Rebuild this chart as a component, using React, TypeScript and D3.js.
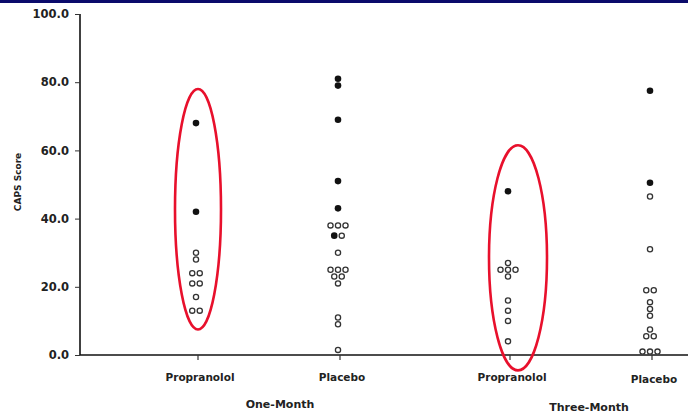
import React from 'react';
import * as d3 from 'd3';

const groups = ['One-Month', 'Three-Month'];
const treatments = ['Propranolol', 'Placebo'];
const yTicks = [0, 20, 40, 60, 80, 100];

// CAPS scores; filled = solid dots, open = hollow dots
const oneMonthPropranololFilled = [68, 42];
const oneMonthPropranololOpen = [30, 28, 24, 24, 21, 21, 17, 13, 13];
const oneMonthPlaceboFilled = [81, 79, 69, 51, 43, 35];
const oneMonthPlaceboOpen = [38, 38, 38, 35, 30, 25, 25, 25, 23, 23, 21, 11, 9, 1.5];
const threeMonthPropranololFilled = [48];
const threeMonthPropranololOpen = [27, 25, 25, 25, 23, 16, 13, 10, 4];
const threeMonthPlaceboFilled = [77.5, 50.5];
const threeMonthPlaceboOpen = [46.5, 31, 19, 19, 15.5, 13.5, 11.5, 7.5, 5.5, 5.5, 1, 1, 1];

// red ellipses drawn around the propranolol columns (value low, value high)
const highlightGroups = ['One-Month', 'Three-Month'];
const highlightRanges = [[7.5, 78], [-4.5, 61.5]];

const series = [
  { group: 'One-Month', treatment: 'Propranolol', filled: oneMonthPropranololFilled, open: oneMonthPropranololOpen },
  { group: 'One-Month', treatment: 'Placebo', filled: oneMonthPlaceboFilled, open: oneMonthPlaceboOpen },
  { group: 'Three-Month', treatment: 'Propranolol', filled: threeMonthPropranololFilled, open: threeMonthPropranololOpen },
  { group: 'Three-Month', treatment: 'Placebo', filled: threeMonthPlaceboFilled, open: threeMonthPlaceboOpen },
];

const W = 688;
const H = 414;
const font = '"DejaVu Sans", Verdana, sans-serif';

export default function App() {
  const ref = React.useRef<SVGSVGElement>(null);

  React.useEffect(() => {
    const svg = d3.select(ref.current);
    svg.selectAll('*').remove();

    const y = d3.scaleLinear().domain([0, 100]).range([355, 14]);
    const xg = d3.scalePoint().domain(groups).range([268, 580]);
    const xt = d3.scalePoint().domain(treatments).range([-70, 72]);
    const xc = (g: string, t: string) => (xg(g) as number) + (xt(t) as number);

    svg.append('rect').attr('width', W).attr('height', H).attr('fill', '#fff');
    svg.append('rect').attr('width', W).attr('height', 3).attr('fill', '#0b0b6b');

    // y axis
    const yAxis = svg.append('g')
      .attr('transform', 'translate(80,0)')
      .call(d3.axisLeft(y).tickValues(yTicks).tickFormat(d3.format('.1f')).tickSize(5).tickPadding(6));
    yAxis.select('.domain').attr('stroke', '#111').attr('stroke-width', 1.6).attr('d', `M0,${y(100)}V${y(0)}`);
    yAxis.selectAll('.tick line').attr('stroke', '#333');
    yAxis.selectAll('text')
      .attr('font-family', font).attr('font-size', 11.5).attr('font-weight', 'bold').attr('fill', '#222');

    svg.append('text')
      .attr('transform', `translate(21,182) rotate(-90)`)
      .attr('text-anchor', 'middle')
      .attr('font-family', font).attr('font-size', 9).attr('font-weight', 'bold').attr('fill', '#222')
      .text('CAPS Score');

    // x axis
    svg.append('line')
      .attr('x1', 80).attr('x2', W).attr('y1', y(0)).attr('y2', y(0))
      .attr('stroke', '#111').attr('stroke-width', 1.6);
    series.forEach((s, i) => {
      const cx = xc(s.group, s.treatment);
      svg.append('line').attr('x1', cx).attr('x2', cx).attr('y1', y(0)).attr('y2', y(0) + 5)
        .attr('stroke', '#333').attr('stroke-width', 1.2);
      svg.append('text')
        .attr('x', cx + 2).attr('y', i === 3 ? 383 : 381)
        .attr('text-anchor', 'middle')
        .attr('font-family', font).attr('font-size', 10.5).attr('font-weight', 'bold').attr('fill', '#222')
        .text(s.treatment);
    });
    const groupLabelShift = [12, 9];
    groups.forEach((g, i) => {
      svg.append('text')
        .attr('x', (xg(g) as number) + groupLabelShift[i]).attr('y', 408 + i * 3)
        .attr('text-anchor', 'middle')
        .attr('font-family', font).attr('font-size', 11).attr('font-weight', 'bold').attr('fill', '#222')
        .text(g);
    });

    // points, dodged side by side when values coincide
    const gap = 7.5;
    series.forEach(s => {
      const pts = [
        ...s.filled.map(v => ({ v, filled: true })),
        ...s.open.map(v => ({ v, filled: false })),
      ];
      const byVal = d3.group(pts, d => d.v);
      const cx = xc(s.group, s.treatment) - 2;
      byVal.forEach(arr => {
        arr.forEach((d, i) => {
          const dx = (i - (arr.length - 1) / 2) * gap;
          const c = svg.append('circle')
            .attr('cx', cx + dx).attr('cy', y(d.v));
          if (d.filled) c.attr('r', 3.3).attr('fill', '#111');
          else c.attr('r', 2.6).attr('fill', '#fff').attr('stroke', '#333').attr('stroke-width', 1.3);
        });
      });
    });

    // red ellipses
    const ellipseShift = [0, 8];
    const ellipseRx = [23, 29];
    highlightGroups.forEach((g, i) => {
      const [lo, hi] = highlightRanges[i];
      svg.append('ellipse')
        .attr('cx', xc(g, 'Propranolol') + ellipseShift[i])
        .attr('cy', (y(lo) + y(hi)) / 2)
        .attr('rx', ellipseRx[i])
        .attr('ry', (y(lo) - y(hi)) / 2)
        .attr('fill', 'none').attr('stroke', '#e8102c').attr('stroke-width', 2.6);
    });
  }, []);

  return (
    <svg ref={ref} width={W} height={H}
      style={{ position: 'absolute', left: 0, top: 0, display: 'block' }} />
  );
}
